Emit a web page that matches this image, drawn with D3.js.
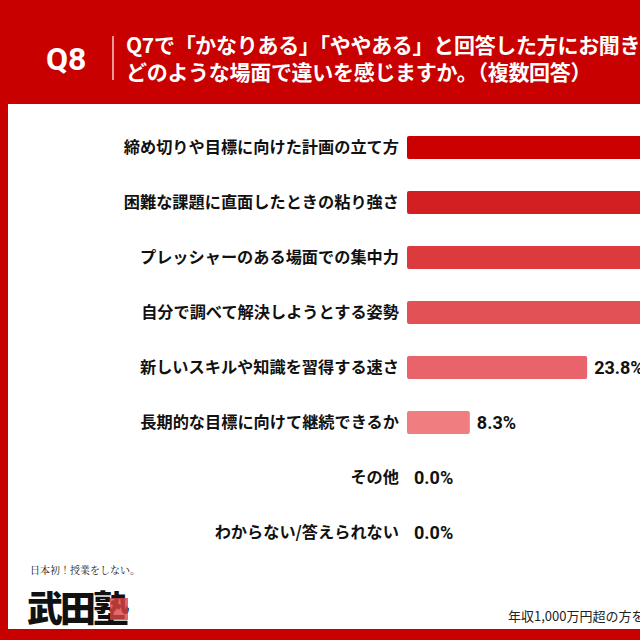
<!DOCTYPE html>
<html><head><meta charset="utf-8">
<script src="https://cdn.jsdelivr.net/npm/d3@7"></script>
<style>body{margin:0;background:#c90000}svg{display:block}</style></head>
<body><svg id="c" width="640" height="640"></svg>
<script>
const categories=["締め切りや目標に向けた計画の立て方","困難な課題に直面したときの粘り強さ","プレッシャーのある場面での集中力","自分で調べて解決しようとする姿勢","新しいスキルや知識を習得する速さ","長期的な目標に向けて継続できるか","その他","わからない/答えられない"];
const values=[52.4,45.2,40.5,35.7,23.8,8.3,0.0,0.0];
const colors=["#cc0000","#d41f22","#dc3a3c","#e25254","#e8646a","#f07d80","#f07d80","#f07d80"];
const F="'Noto Sans CJK JP','Noto Sans',sans-serif";
const svg=d3.select("#c");
svg.append("rect").attr("width",640).attr("height",640).attr("fill","#c90000");
svg.append("rect").attr("x",8).attr("y",104).attr("width",640).attr("height",525).attr("fill","#fff");
svg.append("text").attr("x",46).attr("y",70).attr("fill","#fff").attr("font-family","Roboto,'Noto Sans',sans-serif").attr("font-weight",700).attr("font-size",32).text("Q8");
svg.append("line").attr("x1",113).attr("x2",113).attr("y1",36).attr("y2",80).attr("stroke","#fff").attr("stroke-width",1.5).attr("opacity",0.8);
[["Q7で「かなりある」「ややある」と回答した方にお聞きします。",53],["どのような場面で違いを感じますか。（複数回答）",80]].forEach(([t,y])=>
 svg.append("text").attr("x",126).attr("y",y).attr("fill","#fff").attr("font-family",F).attr("font-weight",700).attr("font-size",21).attr("letter-spacing",-0.3).text(t));
const x=d3.scaleLinear().domain([0,100]).range([407,407+757]);
const y=d3.scaleBand().domain(categories).range([120,560]).paddingInner(0.58).paddingOuter(0.29);
const g=svg.append("g");
categories.forEach((c,i)=>{
 const cy=y(c)+y.bandwidth()/2;
 g.append("text").attr("x",399).attr("y",cy).attr("dy","0.36em").attr("text-anchor","end").attr("font-family",F).attr("font-weight",700).attr("font-size",16.2).attr("fill","#111").text(c);
 if(values[i]>0) g.append("rect").attr("x",x(0)).attr("y",y(c)).attr("width",x(values[i])-x(0)).attr("height",y.bandwidth()).attr("rx",2).attr("fill",colors[i]);
 g.append("text").attr("x",x(values[i])+7).attr("y",cy).attr("dy","0.36em").attr("font-family","Roboto,'Noto Sans',sans-serif").attr("font-weight",700).attr("font-size",18).attr("fill","#111").text(values[i].toFixed(1)+"%");
});
svg.append("text").attr("x",30).attr("y",574).attr("font-family","'Noto Serif CJK JP','Noto Sans CJK JP',serif").attr("font-size",10).attr("fill","#111").text("日本初！授業をしない。");
svg.append("text").attr("x",27).attr("y",622).attr("font-family",F).attr("font-weight",900).attr("font-size",36).attr("fill","#111").attr("letter-spacing",-3).text("武田塾");
svg.append("rect").attr("x",110).attr("y",598).attr("width",18).attr("height",22).attr("fill","#d44").attr("opacity",0.8);
svg.append("text").attr("x",508).attr("y",621).attr("font-family",F).attr("font-size",13).attr("fill","#222").text("年収1,000万円超の方を対象");
</script></body></html>
